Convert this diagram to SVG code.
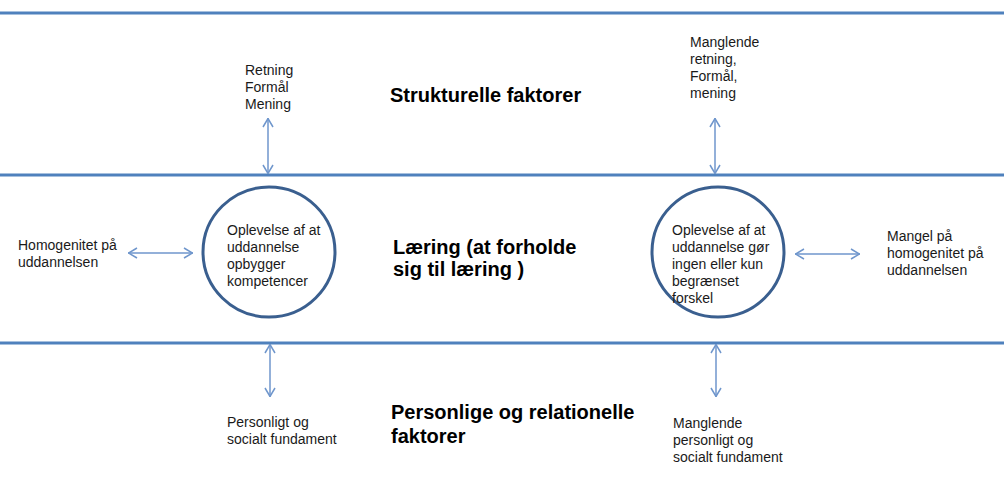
<svg xmlns="http://www.w3.org/2000/svg" width="1004" height="477" viewBox="0 0 1004 477">
<style>
.band{stroke:#4F81BD;stroke-width:3;fill:none}
.circ{stroke:#3A5F8F;stroke-width:3;fill:#FFFFFF}
.arr{stroke:#6F96CC;stroke-width:1.5;fill:none}
.t{font-family:"Liberation Sans",Arial,sans-serif;font-size:14px;fill:#1a1a1a}
.b{font-family:"Liberation Sans",Arial,sans-serif;font-size:20px;font-weight:bold;fill:#000}
</style>
<defs>
<marker id="ah" viewBox="0 0 10 12" refX="10" refY="6" markerWidth="10" markerHeight="12" markerUnits="userSpaceOnUse" orient="auto-start-reverse">
<path d="M1,1 L9.5,6 L1,11" fill="none" stroke="#6F96CC" stroke-width="1.5"/>
</marker>
</defs>
<rect width="1004" height="477" fill="#FFFFFF"/>
<g id="bands">
<line class="band" x1="0" y1="13" x2="1004" y2="13"/>
<line class="band" x1="0" y1="175" x2="1004" y2="175"/>
<line class="band" x1="0" y1="343" x2="1004" y2="343"/>
</g>
<g id="connectors">
<line class="arr" x1="268" y1="118" x2="268" y2="174" marker-start="url(#ah)" marker-end="url(#ah)"/>
<line class="arr" x1="715" y1="118" x2="715" y2="174" marker-start="url(#ah)" marker-end="url(#ah)"/>
<line class="arr" x1="270" y1="344" x2="270" y2="397" marker-start="url(#ah)" marker-end="url(#ah)"/>
<line class="arr" x1="716" y1="344" x2="716" y2="397" marker-start="url(#ah)" marker-end="url(#ah)"/>
<line class="arr" x1="128" y1="253" x2="193" y2="253" marker-start="url(#ah)" marker-end="url(#ah)"/>
<line class="arr" x1="795" y1="254" x2="860" y2="254" marker-start="url(#ah)" marker-end="url(#ah)"/>
</g>
<g id="titles">
<text class="b" x="390" y="102">Strukturelle faktorer</text>
<text class="b" x="393" y="254">Læring (at forholde</text>
<text class="b" x="393" y="276">sig til læring )</text>
<text class="b" x="391" y="419">Personlige og relationelle</text>
<text class="b" x="391" y="443">faktorer</text>
</g>
<g id="node-left-circle">
<ellipse class="circ" cx="269" cy="252" rx="66" ry="65"/>
<text class="t" x="227"><tspan x="227" y="235">Oplevelse af at</tspan><tspan x="227" y="252">uddannelse</tspan><tspan x="227" y="269">opbygger</tspan><tspan x="227" y="286">kompetencer</tspan></text>
</g>
<g id="node-right-circle">
<ellipse class="circ" cx="718" cy="252" rx="66" ry="65"/>
<text class="t" x="672"><tspan x="672" y="235">Oplevelse af at</tspan><tspan x="672" y="252">uddannelse gør</tspan><tspan x="672" y="269">ingen eller kun</tspan><tspan x="672" y="286">begrænset</tspan><tspan x="672" y="303">forskel</tspan></text>
</g>
<g id="node-retning">
<text class="t"><tspan x="245" y="75">Retning</tspan><tspan x="245" y="92">Formål</tspan><tspan x="245" y="109">Mening</tspan></text>
</g>
<g id="node-manglende-retning">
<text class="t"><tspan x="690" y="47">Manglende</tspan><tspan x="690" y="64">retning,</tspan><tspan x="690" y="81">Formål,</tspan><tspan x="690" y="98">mening</tspan></text>
</g>
<g id="node-homogenitet">
<text class="t"><tspan x="18" y="250">Homogenitet på</tspan><tspan x="18" y="267">uddannelsen</tspan></text>
</g>
<g id="node-mangel-homogenitet">
<text class="t"><tspan x="887" y="241">Mangel på</tspan><tspan x="887" y="258">homogenitet på</tspan><tspan x="887" y="275">uddannelsen</tspan></text>
</g>
<g id="node-personligt">
<text class="t"><tspan x="227" y="427">Personligt og</tspan><tspan x="227" y="444">socialt fundament</tspan></text>
</g>
<g id="node-manglende-personligt">
<text class="t"><tspan x="673" y="428">Manglende</tspan><tspan x="673" y="445">personligt og</tspan><tspan x="673" y="462">socialt fundament</tspan></text>
</g>
</svg>
